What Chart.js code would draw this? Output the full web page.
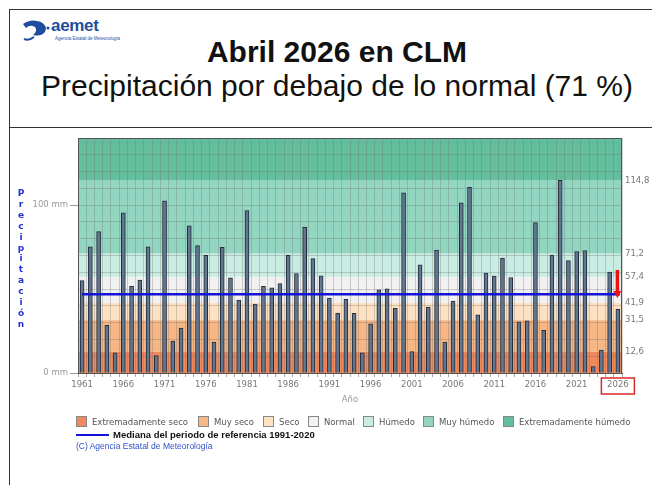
<!DOCTYPE html>
<html lang="es">
<head>
<meta charset="UTF-8">
<script src="https://cdn.jsdelivr.net/npm/chart.js"></script>
<title>Abril 2026 en CLM</title>
<style>
  body { margin: 0; background: #fff; font-family: "Liberation Sans", Arial, sans-serif; }
  #page { position: relative; width: 652px; height: 485px; overflow: hidden; }
  .frame { position: absolute; left: 9px; top: 9px; width: 700px; height: 600px; border: 1.5px solid #333; }
  .divider { position: absolute; left: 9px; top: 127px; width: 700px; border-top: 1.5px solid #333; }
  .logo { position: absolute; left: 21px; top: 18px; }
  .logo .name { position: absolute; left: 30px; top: -2px; font: bold 17px "Liberation Sans", Arial, sans-serif; color: #1d4e9e; letter-spacing: -0.3px; }
  .logo .sub { position: absolute; left: 34px; top: 18px; font-size: 4.5px; color: #1d4e9e; white-space: nowrap; }
  .t1 { position: absolute; left: 0; width: 674px; top: 35px; text-align: center; font: bold 30px "Liberation Sans", Arial, sans-serif; color: #111; }
  .t2 { position: absolute; left: 0; width: 674px; top: 69px; text-align: center; font: 30px "Liberation Sans", Arial, sans-serif; color: #111; }
  canvas { position: absolute; left: 0; top: 0; }
  .ylab { position: absolute; left: 14px; top: 188px; width: 14px; text-align: center; font: bold 9px "DejaVu Sans", sans-serif; line-height: 10.9px; color: #2433d6; }
  .legend span { position: absolute; top: 416px; display: flex; align-items: center; gap: 5px; white-space: nowrap; font: 8.5px "DejaVu Sans", sans-serif; color: #555; }
  .legend i { display: inline-block; width: 9px; height: 9px; border: 1px solid #888; }
  .median { position: absolute; left: 76px; top: 429px; font: bold 9.5px "Liberation Sans", Arial, sans-serif; color: #111; display: flex; align-items: center; gap: 4px; white-space: nowrap; }
  .median i { display: inline-block; width: 33px; height: 2px; background: #1414d8; }
  .copy { position: absolute; left: 76px; top: 441px; font: 8.5px "Liberation Sans", Arial, sans-serif; color: #3050c8; white-space: nowrap; }
</style>
</head>
<body>
<div id="page">
  <div class="frame"></div>
  <div class="divider"></div>
  <div class="logo">
    <svg width="30" height="24" viewBox="0 0 30 24">
      <path d="M2 6 Q10 0 20 4 Q27 8 24 14 Q20 19 12 17 Q17 13 14 9 Q9 6 5 10 Z" fill="#1d4e9e"/>
      <path d="M7 12 Q10 10 12 13 Q10 16 7 14 Z" fill="#fff"/>
      <path d="M3 21 Q8 23 13 19" stroke="#1d4e9e" stroke-width="2" fill="none"/>
      <circle cx="27" cy="10" r="1.5" fill="#1d4e9e"/>
    </svg>
    <div class="name">aemet</div>
    <div class="sub">Agencia Estatal de Meteorología</div>
  </div>
  <div class="t1">Abril 2026 en CLM</div>
  <div class="t2">Precipitación por debajo de lo normal (71 %)</div>
  <canvas id="grafico" width="652" height="485"></canvas>
  <div class="ylab">P<br>r<br>e<br>c<br>i<br>p<br>i<br>t<br>a<br>c<br>i<br>ó<br>n</div>
  <div class="legend" id="leyenda"></div>
  <div class="median"><i></i>Mediana del periodo de referencia 1991-2020</div>
  <div class="copy">(C) Agencia Estatal de Meteorología</div>
</div>

<script>
  // años 1961-2026
  const anios = ['1961','1962','1963','1964','1965','1966','1967','1968','1969','1970',
    '1971','1972','1973','1974','1975','1976','1977','1978','1979','1980',
    '1981','1982','1983','1984','1985','1986','1987','1988','1989','1990',
    '1991','1992','1993','1994','1995','1996','1997','1998','1999','2000',
    '2001','2002','2003','2004','2005','2006','2007','2008','2009','2010',
    '2011','2012','2013','2014','2015','2016','2017','2018','2019','2020',
    '2021','2022','2023','2024','2025','2026'];

  // precipitación de abril (mm)
  const precipitacion = [55.1, 75.1, 84.3, 28.4, 12.0, 95.4, 51.7, 55.3, 75.1, 10.4,
    102.6, 19.0, 26.8, 87.7, 75.9, 70.1, 18.4, 74.9, 56.7, 43.5,
    96.8, 41.1, 51.7, 50.7, 53.3, 70.1, 59.3, 86.8, 68.1, 57.9,
    44.7, 35.7, 43.9, 35.5, 12.0, 29.3, 49.5, 50.1, 38.5, 107.4,
    12.8, 64.5, 39.3, 73.3, 18.4, 42.9, 101.4, 110.6, 34.7, 59.5,
    57.7, 68.5, 56.9, 30.5, 31.1, 89.6, 25.4, 70.3, 114.8, 66.9,
    72.3, 72.9, 3.8, 13.6, 60.1, 38.1];

  // umbrales de las categorías (eje derecho)
  const umbrales = [12.6, 31.5, 41.9, 57.4, 71.2, 114.8];
  const categorias = ['Extremadamente seco', 'Muy seco', 'Seco', 'Normal', 'Húmedo', 'Muy húmedo', 'Extremadamente húmedo'];
  const coloresCategoria = ['#f08a5d', '#f7b685', '#fde1c2', '#f1f1f1', '#c9ece3', '#92d6c1', '#62be9c'];

  const mediana = 46.9;
  const flecha = [61.4, 44.7];   // desde / hasta (mm) en 2026
  const ejeMax = 140;

  // leyenda html (posición horizontal de cada entrada)
  const posLeyenda = [76, 198, 263, 308, 363, 423, 503];
  const leyenda = document.getElementById('leyenda');
  categorias.forEach((c, i) => {
    const s = document.createElement('span');
    s.style.left = posLeyenda[i] + 'px';
    s.innerHTML = '<i style="background:' + coloresCategoria[i] + '"></i>' + c;
    leyenda.appendChild(s);
  });

  const fondoBandas = {
    id: 'fondoBandas',
    beforeDraw(chart) {
      const { ctx, chartArea, scales } = chart;
      const limites = [0, ...umbrales, ejeMax];
      ctx.save();
      for (let i = 0; i < limites.length - 1; i++) {
        const y1 = scales.y.getPixelForValue(limites[i]);
        const y2 = scales.y.getPixelForValue(limites[i + 1]);
        ctx.fillStyle = coloresCategoria[i];
        ctx.fillRect(chartArea.left, y2, chartArea.right - chartArea.left, y1 - y2);
      }
      ctx.restore();
    },
    afterDatasetsDraw(chart) {
      const { ctx, chartArea, scales } = chart;
      const x = scales.x;
      const y = scales.y;
      ctx.save();
      // mediana
      ctx.strokeStyle = '#1414d8';
      ctx.lineWidth = 2.5;
      ctx.beginPath();
      ctx.moveTo(x.getPixelForValue(0), y.getPixelForValue(mediana));
      ctx.lineTo(x.getPixelForValue(anios.length - 1) + 2, y.getPixelForValue(mediana));
      ctx.stroke();
      // flecha roja
      const fx = x.getPixelForValue(anios.length - 1) - 0.5;
      const y1 = y.getPixelForValue(flecha[0]);
      const y2 = y.getPixelForValue(flecha[1]);
      ctx.strokeStyle = '#ee1111';
      ctx.fillStyle = '#ee1111';
      ctx.lineWidth = 3.5;
      ctx.beginPath();
      ctx.moveTo(fx, y1);
      ctx.lineTo(fx, y2 - 6);
      ctx.stroke();
      ctx.beginPath();
      ctx.moveTo(fx - 4, y2 - 7);
      ctx.lineTo(fx + 4, y2 - 7);
      ctx.lineTo(fx, y2);
      ctx.closePath();
      ctx.fill();
      // marco del area
      ctx.strokeStyle = '#555';
      ctx.lineWidth = 1;
      ctx.strokeRect(chartArea.left + 0.5, chartArea.top + 0.5, chartArea.right - chartArea.left - 1, chartArea.bottom - chartArea.top);
      // recuadro del ultimo año
      ctx.strokeStyle = '#d92a2a';
      ctx.lineWidth = 1.5;
      ctx.strokeRect(fx - 16, chartArea.bottom + 5, 33, 16);
      ctx.restore();
    }
  };

  const ctx = document.getElementById('grafico').getContext('2d');
  new Chart(ctx, {
    type: 'bar',
    data: {
      labels: anios,
      datasets: [{
        data: precipitacion,
        backgroundColor: '#617690',
        borderColor: '#232c38',
        borderWidth: 1,
        barThickness: 4
      }]
    },
    options: {
      responsive: false,
      animation: false,
      layout: { padding: { left: 0, right: 0, top: 138, bottom: 80 } },
      plugins: { legend: { display: false }, tooltip: { enabled: false } },
      scales: {
        x: {
          afterFit: s => { s.height = 32; },
          grid: { color: 'rgba(110,110,110,0.3)', tickColor: '#aaa', tickLength: 4 },
          border: { color: '#555' },
          ticks: {
            autoSkip: false, maxRotation: 0, padding: 3,
            color: '#777', font: { family: 'DejaVu Sans', size: 8.5 },
            callback: (v, i) => (i % 5 === 0 ? anios[i] : '')
          },
          title: { display: true, text: 'Año', color: '#999', font: { family: 'DejaVu Sans', size: 8.5 }, padding: 0 }
        },
        y: {
          min: 0, max: ejeMax,
          afterFit: s => { s.width = 78; },
          grid: {
            color: 'rgba(110,110,110,0.3)',
            tickColor: c => (c.tick && c.tick.value % 100 === 0 ? '#999' : 'transparent'),
            tickLength: 8
          },
          border: { color: '#555' },
          ticks: {
            stepSize: 10, padding: 2,
            color: '#999', font: { family: 'DejaVu Sans', size: 8.5 },
            callback: v => (v % 100 === 0 ? v + ' mm' : '')
          }
        },
        y2: {
          position: 'right',
          min: 0, max: ejeMax,
          afterFit: s => { s.width = 30; },
          afterBuildTicks: s => { s.ticks = umbrales.map(v => ({ value: v })); },
          grid: { drawOnChartArea: false, drawTicks: false },
          border: { display: false },
          ticks: {
            padding: 3,
            color: '#777', font: { family: 'DejaVu Sans', size: 8.5 },
            callback: v => v.toFixed(1).replace('.', ',')
          }
        }
      }
    },
    plugins: [fondoBandas]
  });
</script>
</body>
</html>
